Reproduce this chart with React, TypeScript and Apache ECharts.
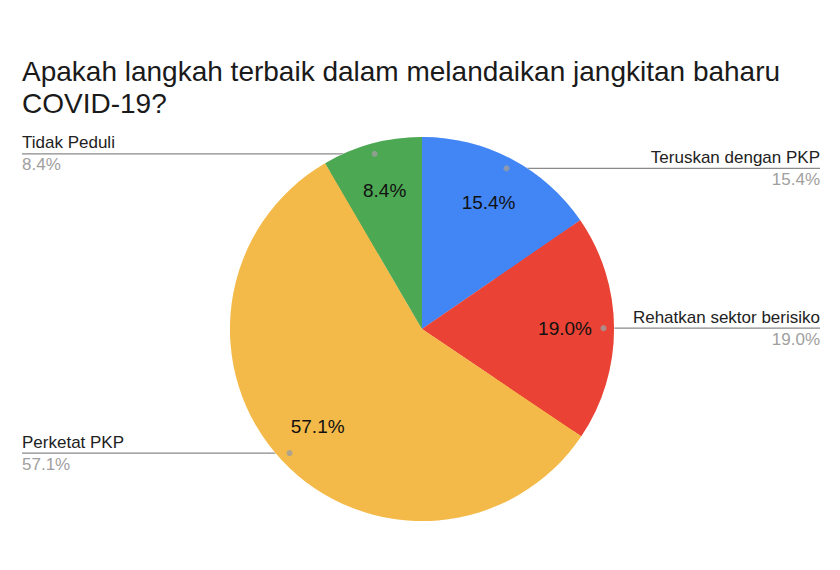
import React from 'react';
import * as echarts from 'echarts';

const TITLE = 'Apakah langkah terbaik dalam melandaikan jangkitan baharu\nCOVID-19?';
const categories = ['Teruskan dengan PKP', 'Rehatkan sektor berisiko', 'Perketat PKP', 'Tidak Peduli'];
const values = [15.4, 19.0, 57.1, 8.4];
const colors = ['#4285F4', '#EA4335', '#F4BA49', '#4DA853'];

const FONT = '"Liberation Sans", Arial, Helvetica, sans-serif';
const CX = 422;
const CY = 329;
const R = 192;
const DOT_R = 181.5;
const LEFT_EDGE = 22;
const RIGHT_EDGE = 820;

const App = () => {
  const chartRef = React.useRef(null);

  React.useEffect(() => {
    const myChart = echarts.init(chartRef.current, null, { renderer: 'svg' });

    const total = values.reduce((a, b) => a + b, 0);
    const pieData = categories.map((name, i) => ({
      name,
      value: values[i],
      itemStyle: { color: colors[i] },
    }));

    // dot positions: middle angle of each slice, in percent of the full circle
    let cum = 0;
    const dotData = values.map((v) => {
      const mid = ((cum + v / 2) / total) * 100;
      cum += v;
      return [DOT_R, mid];
    });

    const option: any = {
      animation: false,
      backgroundColor: '#fff',
      title: {
        text: TITLE,
        left: 17,
        top: 50,
        textStyle: {
          fontFamily: FONT,
          fontSize: 28,
          fontWeight: 'normal',
          color: '#1a1a1a',
          lineHeight: 32,
        },
      },
      polar: { center: [CX, CY], radius: R },
      angleAxis: {
        type: 'value',
        min: 0,
        max: 100,
        startAngle: 90,
        clockwise: true,
        show: false,
      },
      radiusAxis: { type: 'value', min: 0, max: R, show: false },
      series: [
        {
          type: 'pie',
          center: [CX, CY],
          radius: [0, R],
          startAngle: 90,
          clockwise: true,
          data: pieData,
          label: { show: false },
          labelLine: { show: false },
          itemStyle: { borderColor: '#ffffff', borderWidth: 0.8 },
          silent: true,
        },
        {
          // percentages inside the slices
          type: 'pie',
          center: [CX, CY],
          radius: [88, R],
          startAngle: 90,
          clockwise: true,
          data: pieData,
          itemStyle: { color: 'transparent' },
          label: {
            show: true,
            position: 'inside',
            formatter: (p: any) => p.value.toFixed(1) + '%',
            fontFamily: FONT,
            fontSize: 19,
            color: '#111',
          },
          labelLine: { show: false },
          silent: true,
        },
        {
          // outside labels with leader lines
          type: 'pie',
          center: [CX, CY],
          radius: [0, DOT_R],
          startAngle: 90,
          clockwise: true,
          data: pieData,
          avoidLabelOverlap: false,
          itemStyle: { color: 'transparent' },
          label: {
            show: true,
            position: 'outside',
            formatter: (p: any) => '{n|' + p.name + '}\n{p|' + p.value.toFixed(1) + '%}',
            rich: {
              n: { fontFamily: FONT, fontSize: 17, color: '#222', lineHeight: 22 },
              p: { fontFamily: FONT, fontSize: 17, color: '#a0a0a0', lineHeight: 22 },
            },
          },
          labelLine: {
            show: true,
            length: 10,
            length2: 10,
            lineStyle: { color: '#8a8a8a', width: 1.2 },
          },
          labelLayout: (params: any) => {
            const start = params.labelLinePoints[0];
            const right = start[0] > CX;
            const x = right ? RIGHT_EDGE : LEFT_EDGE;
            return {
              x,
              y: start[1],
              align: right ? 'right' : 'left',
              verticalAlign: 'middle',
              labelLinePoints: [start, [x, start[1]]],
            };
          },
          silent: true,
        },
        {
          type: 'scatter',
          coordinateSystem: 'polar',
          data: dotData,
          symbol: 'circle',
          symbolSize: 6,
          itemStyle: { color: '#9e9e9e' },
          z: 10,
          silent: true,
        },
      ],
    };

    myChart.setOption(option);

    return () => {
      myChart.dispose();
    };
  }, []);

  return (
    <div
      ref={chartRef}
      style={{
        position: 'absolute',
        left: 0,
        top: 0,
        width: '840px',
        height: '570px',
      }}
    />
  );
};

export default App;
